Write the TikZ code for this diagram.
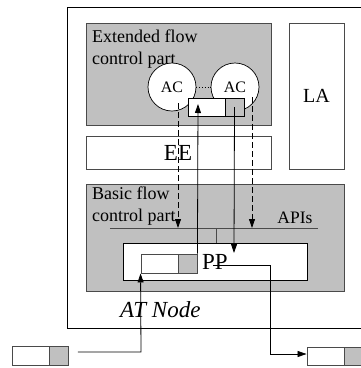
\documentclass[tikz,border=0pt]{standalone}
\usepackage{fontspec}
\setmainfont{Liberation Serif}
\usetikzlibrary{arrows.meta}
\definecolor{boxgray}{HTML}{C0C0C0}
\definecolor{edgegray}{HTML}{4A4A4A}
\tikzset{
  panel/.style={draw=edgegray, line width=0.9pt, inner sep=0pt, rectangle},
  shaded/.style={panel, fill=boxgray},
  plain/.style={panel, fill=white},
  acnode/.style={circle, draw=black, line width=0.7pt, fill=white, minimum size=48pt, inner sep=0pt, font=\fontsize{16}{16}\selectfont},
  link/.style={line width=0.8pt, draw=black},
  tip/.style={-{Triangle[length=9pt,width=6pt]}},
  dashlink/.style={link, dash pattern=on 6pt off 3pt},
  lbl/.style={inner sep=0pt, text=black}
}
\begin{document}
\begin{tikzpicture}[x=1pt,y=-1pt]
\useasboundingbox (0,0) rectangle (360,368);
\fill[white] (0,0) rectangle (360,368);
% outer AT node box
\node[plain, draw=black, minimum width=295pt, minimum height=321pt] (outer) at (214.5,167.5) {};
% extended flow control part
\node[shaded, minimum width=185pt, minimum height=102pt] (ext) at (178.5,74) {};
\node[lbl, anchor=north west, align=left, font=\fontsize{18}{22}\selectfont] (extlbl) at (92,30) {Extended flow\\control part};
% LA
\node[plain, minimum width=55pt, minimum height=146pt, font=\fontsize{20}{20}\selectfont] (la) at (316.5,96) {LA};
% EE
\node[plain, minimum width=185pt, minimum height=33pt] (ee) at (178.5,152.5) {};
\node[lbl, font=\fontsize{23}{23}\selectfont] (eelbl) at (178,153) {EE};
% basic flow control part
\node[shaded, minimum width=258pt, minimum height=107pt] (basic) at (215,237.5) {};
\node[lbl, anchor=north west, align=left, font=\fontsize{18}{22}\selectfont] (basiclbl) at (92,187) {Basic flow\\control part};
\node[lbl, font=\fontsize{17.5}{17.5}\selectfont] (apis) at (295,218) {APIs};
% APIs line
\coordinate (apiL) at (110,228);
\coordinate (apiR) at (318,228);
\draw[link, draw=edgegray] (apiL) -- (apiR);
% PP box
\node[plain, draw=black, minimum width=184pt, minimum height=37pt] (pp) at (215,261.5) {};
\coordinate (tickTop) at (216,228);
\draw[link, draw=edgegray] (tickTop) -- (tickTop |- pp.north);
% inner packet in PP
\node[plain, minimum width=37pt, minimum height=19pt] (inW) at (159.5,263.5) {};
\node[shaded, minimum width=19pt, minimum height=19pt] (inG) at (187.5,263.5) {};
\node[lbl, font=\fontsize{23}{23}\selectfont] (pplbl) at (215,262) {PP};
% AC circles
\node[acnode] (ac1) at (172,87) {AC};
\node[acnode] (ac2) at (235,87) {AC};
\draw[link, dotted, line width=0.9pt] (ac1.east) -- (ac2.west);
% packet at ACs
\node[plain, draw=black, minimum width=37pt, minimum height=18pt] (acW) at (206.5,107) {};
\node[shaded, draw=black, minimum width=19pt, minimum height=18pt] (acG) at (234.5,107) {};
% dashed arrows from ACs to APIs
\coordinate (d1s) at (178,103);
\coordinate (d1e) at (178,228);
\coordinate (d2s) at (252,97);
\coordinate (d2e) at (252,228);
\draw[dashlink, tip] (d1s) -- (d1e);
\draw[dashlink, tip] (d2s) -- (d2e);
% solid arrows between packets
\coordinate (upEnd) at (198,104);
\draw[link, tip] (inG.north east) -- (upEnd);
\coordinate (dnEnd) at (234,253);
\draw[link, tip] (acG.center) -- (dnEnd);
% AT Node label
\node[lbl, anchor=west, font=\fontsize{23}{23}\itshape] (atlbl) at (120,310) {AT Node};
% outside packets
\node[plain, minimum width=37pt, minimum height=19pt] (lW) at (30.5,355.5) {};
\node[shaded, minimum width=19pt, minimum height=19pt] (lG) at (58.5,355.5) {};
\node[plain, minimum width=37pt, minimum height=18pt] (rW) at (325.5,356) {};
\node[shaded, minimum width=19pt, minimum height=18pt] (rG) at (353.5,356) {};
% input arrow
\coordinate (inStart) at (78,352);
\draw[link, tip] (inStart) -- (141,352) -- (inW.south west);
% output arrow
\coordinate (outStart) at (213,265);
\draw[link, tip] (outStart) -- (270,265) -- (270,354) -- (rW.west |- 0,354);
\end{tikzpicture}
\end{document}
